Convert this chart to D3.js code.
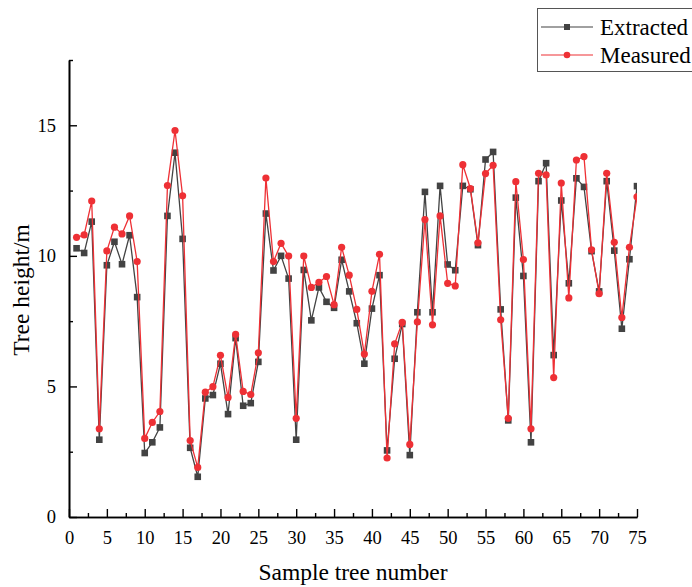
<!DOCTYPE html>
<html><head><meta charset="utf-8">
<script src="https://cdn.jsdelivr.net/npm/d3@7"></script>
<style>body{margin:0;background:#fff}svg{display:block}svg text{font-family:"Liberation Serif","Times New Roman",serif !important}</style>
</head><body><svg id="c" width="692" height="587"></svg>
<script>
const sampleNumbers = d3.range(1, 76);
const extracted = [10.29,10.11,11.31,2.96,9.64,10.54,9.68,10.79,8.42,2.45,
2.86,3.43,11.53,13.95,10.65,2.65,1.54,4.54,4.67,5.87,
3.94,6.85,4.26,4.36,5.94,11.62,9.44,10.0,9.13,2.96,
9.46,7.53,8.79,8.24,8.01,9.85,8.64,7.42,5.87,7.98,
9.26,2.55,6.06,7.39,2.37,7.84,12.45,7.84,12.68,9.67,
9.45,12.68,12.55,10.41,13.69,13.98,7.95,3.70,12.23,9.23,
2.86,12.86,13.55,6.20,12.12,8.95,12.97,12.64,10.18,8.64,
12.86,10.20,7.21,9.87,12.67];
const measured = [10.71,10.80,12.10,3.38,10.19,11.10,10.84,11.53,9.78,3.01,
3.62,4.04,12.69,14.80,12.30,2.93,1.90,4.78,4.99,6.19,
4.58,6.99,4.81,4.69,6.29,12.98,9.78,10.48,9.99,3.78,
9.99,8.79,8.99,9.21,8.13,10.33,9.26,7.95,6.24,8.64,
10.06,2.26,6.63,7.45,2.78,7.47,11.39,7.36,11.53,8.95,
8.85,13.49,12.58,10.50,13.15,13.47,7.55,3.78,12.84,9.86,
3.38,13.16,13.10,5.34,12.79,8.39,13.67,13.80,10.23,8.55,
13.16,10.52,7.64,10.33,12.26];
const xTickValues = d3.range(0, 76, 5);
const xMinorTicks = d3.range(2.5, 75, 5);
const yTickValues = [0, 5, 10, 15];
const yMinorTicks = [2.5, 7.5, 12.5, 17.5];
const seriesNames = ["Extracted", "Measured"];

const FONT = "Liberation Serif";
const svg = d3.select("#c");
const x = d3.scaleLinear().domain([0, 75]).range([69, 637]);
const y = d3.scaleLinear().domain([0, 17.5]).range([517, 60]);
const colors = {Extracted: "#434343", Measured: "#ee3035"};

svg.append("defs").append("clipPath").attr("id", "clip")
  .append("rect").attr("x", 69).attr("y", 40).attr("width", 568).attr("height", 480);

// axes
svg.append("g").attr("transform", "translate(0,517)")
  .call(d3.axisBottom(x).tickValues(xTickValues).tickSizeInner(-8).tickSizeOuter(0).tickPadding(14));
svg.append("g").attr("transform", "translate(0,517)")
  .call(d3.axisBottom(x).tickValues(xMinorTicks).tickSizeInner(-4).tickSizeOuter(0).tickFormat(""));
svg.append("g").attr("transform", "translate(69,0)")
  .call(d3.axisLeft(y).tickValues(yTickValues).tickSizeInner(-8).tickSizeOuter(0).tickPadding(13));
svg.append("g").attr("transform", "translate(69,0)")
  .call(d3.axisLeft(y).tickValues(yMinorTicks).tickSizeInner(-4).tickSizeOuter(0).tickFormat(""));
svg.selectAll("g").attr("font-family", FONT);
svg.selectAll(".domain").attr("stroke", "#000").attr("stroke-width", 1.6);
svg.selectAll(".tick line").attr("stroke", "#000").attr("stroke-width", 1.4);
svg.selectAll(".tick text").attr("font-size", 18.5).attr("font-family", FONT).attr("fill", "#000");

// lines
const plot = svg.append("g").attr("clip-path", "url(#clip)");
const series = [{name: "Extracted", values: extracted}, {name: "Measured", values: measured}];
const line = d3.line().x((d, i) => x(sampleNumbers[i])).y(d => y(d));
series.forEach(s => {
  plot.append("path").datum(s.values).attr("d", line)
    .attr("fill", "none").attr("stroke", colors[s.name]).attr("stroke-width", 1.3);
  if (s.name === "Extracted") {
    plot.selectAll(null).data(s.values).enter().append("rect")
      .attr("x", (d, i) => x(sampleNumbers[i]) - 3.3).attr("y", d => y(d) - 3.3)
      .attr("width", 6.6).attr("height", 6.6).attr("fill", colors[s.name]);
  } else {
    plot.selectAll(null).data(s.values).enter().append("circle")
      .attr("cx", (d, i) => x(sampleNumbers[i])).attr("cy", d => y(d))
      .attr("r", 3.6).attr("fill", colors[s.name]);
  }
});

// axis titles
svg.append("text").attr("x", 353).attr("y", 580).attr("text-anchor", "middle")
  .attr("font-family", FONT).attr("font-size", 23.5).text("Sample tree number");
svg.append("text").attr("transform", "translate(29,290) rotate(-90)").attr("text-anchor", "middle")
  .attr("font-family", FONT).attr("font-size", 23.5).text("Tree height/m");

// legend
const lg = svg.append("g");
lg.append("rect").attr("x", 537.5).attr("y", 8.5).attr("width", 160).attr("height", 63)
  .attr("fill", "#fff").attr("stroke", "#555").attr("stroke-width", 1);
seriesNames.forEach((n, i) => {
  const cy = 27 + i * 28;
  lg.append("line").attr("x1", 541).attr("x2", 593).attr("y1", cy).attr("y2", cy)
    .attr("stroke", colors[n]).attr("stroke-width", 1.2);
  if (n === "Extracted") lg.append("rect").attr("x", 564).attr("y", cy - 3).attr("width", 6).attr("height", 6).attr("fill", colors[n]);
  else lg.append("circle").attr("cx", 567).attr("cy", cy).attr("r", 3.3).attr("fill", colors[n]);
  lg.append("text").attr("x", 600).attr("y", cy + 7.5).attr("font-family", FONT).attr("font-size", 23).text(n);
});
</script></body></html>
